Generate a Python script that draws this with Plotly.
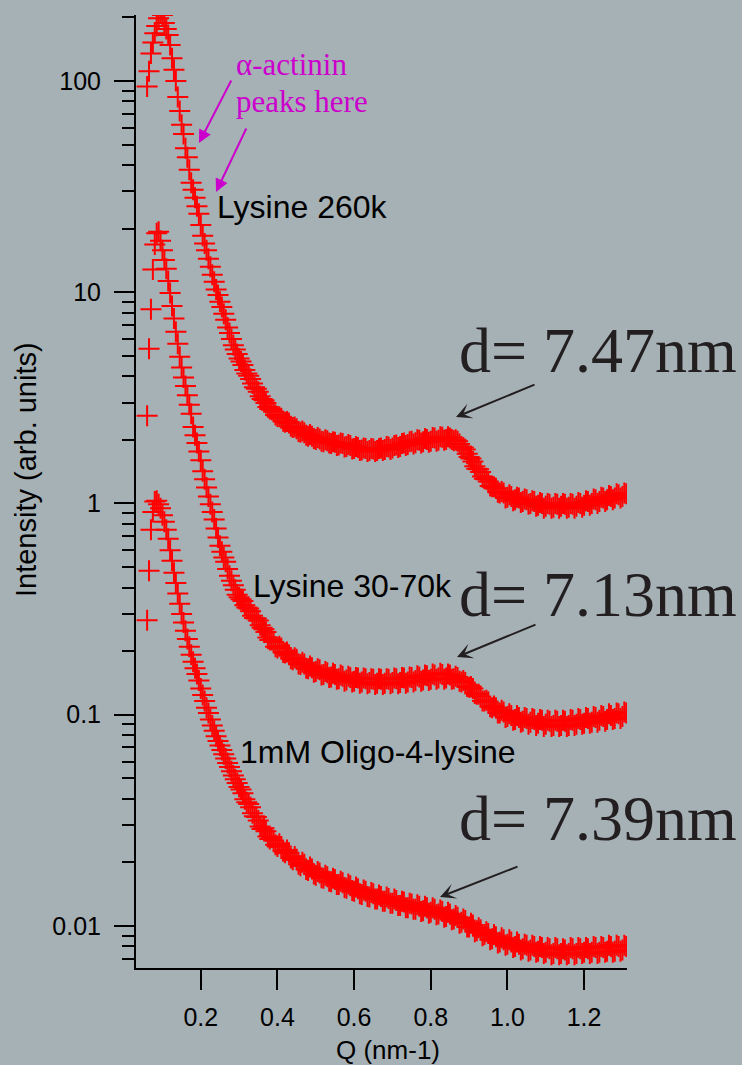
import plotly.graph_objects as go

# ---------------- data ----------------
# Q (nm-1): fine sampling near the peak, then the dense high-Q part
q_low = [0.060, 0.065, 0.070, 0.075, 0.080, 0.085, 0.090, 0.095, 0.100, 0.105,
         0.110, 0.115, 0.120, 0.125, 0.130, 0.135, 0.140, 0.145, 0.150, 0.155,
         0.160, 0.165, 0.170, 0.175, 0.180, 0.185, 0.190, 0.195, 0.200, 0.205,
         0.210, 0.215, 0.220, 0.225, 0.230, 0.235, 0.240, 0.245, 0.250, 0.255,
         0.260, 0.265, 0.270, 0.275, 0.280, 0.285, 0.290, 0.295, 0.300]
q_high = [0.305, 0.310, 0.315, 0.320, 0.325, 0.330, 0.335, 0.340, 0.345, 0.350,
          0.355, 0.360, 0.365, 0.370, 0.375, 0.380, 0.385, 0.390, 0.395, 0.400,
          0.405, 0.410, 0.415, 0.420, 0.425, 0.430, 0.435, 0.440, 0.445, 0.450,
          0.455, 0.460, 0.465, 0.470, 0.475, 0.480, 0.485, 0.490, 0.495, 0.500,
          0.505, 0.510, 0.515, 0.520, 0.525, 0.530, 0.535, 0.540, 0.545, 0.550,
          0.555, 0.560, 0.565, 0.570, 0.575, 0.580, 0.585, 0.590, 0.595, 0.600,
          0.605, 0.610, 0.615, 0.620, 0.625, 0.630, 0.635, 0.640, 0.645, 0.650,
          0.655, 0.660, 0.665, 0.670, 0.675, 0.680, 0.685, 0.690, 0.695, 0.700,
          0.705, 0.710, 0.715, 0.720, 0.725, 0.730, 0.735, 0.740, 0.745, 0.750,
          0.755, 0.760, 0.765, 0.770, 0.775, 0.780, 0.785, 0.790, 0.795, 0.800,
          0.805, 0.810, 0.815, 0.820, 0.825, 0.830, 0.835, 0.840, 0.845, 0.850,
          0.855, 0.860, 0.865, 0.870, 0.875, 0.880, 0.885, 0.890, 0.895, 0.900,
          0.905, 0.910, 0.915, 0.920, 0.925, 0.930, 0.935, 0.940, 0.945, 0.950,
          0.955, 0.960, 0.965, 0.970, 0.975, 0.980, 0.985, 0.990, 0.995, 1.000,
          1.005, 1.010, 1.015, 1.020, 1.025, 1.030, 1.035, 1.040, 1.045, 1.050,
          1.055, 1.060, 1.065, 1.070, 1.075, 1.080, 1.085, 1.090, 1.095, 1.100,
          1.105, 1.110, 1.115, 1.120, 1.125, 1.130, 1.135, 1.140, 1.145, 1.150,
          1.155, 1.160, 1.165, 1.170, 1.175, 1.180, 1.185, 1.190, 1.195, 1.200,
          1.205, 1.210, 1.215, 1.220, 1.225, 1.230, 1.235, 1.240, 1.245, 1.250,
          1.255, 1.260, 1.265, 1.270, 1.275, 1.280, 1.285, 1.290, 1.295, 1.300,
          1.305, 1.310]

lysine_260k_low = [94, 111, 135, 152, 168, 182, 198, 210, 205, 188,
                   176, 165, 148, 128, 113, 100, 84, 72, 62, 56,
                   48, 43.5, 38, 33, 30.5, 28, 25.5, 23.5, 20.8, 18.5,
                   17, 15.8, 14.4, 13.2, 12.1, 11.2, 10.3, 9.7, 9.0, 8.5,
                   7.9, 7.4, 6.8, 6.4, 6.0, 5.6, 5.35, 5.1, 4.85]
lysine_260k_high = [4.70, 4.52, 4.28, 4.12, 4.02, 3.88, 3.70, 3.55, 3.49, 3.38,
                    3.22, 3.12, 3.08, 2.99, 2.86, 2.80, 2.78, 2.72, 2.62, 2.58,
                    2.57, 2.53, 2.45, 2.42, 2.44, 2.40, 2.32, 2.29, 2.30, 2.26,
                    2.19, 2.17, 2.20, 2.16, 2.10, 2.08, 2.12, 2.08, 2.03, 2.01,
                    2.05, 2.02, 1.97, 1.96, 2.00, 1.98, 1.93, 1.92, 1.96, 1.95,
                    1.88, 1.89, 1.93, 1.92, 1.85, 1.86, 1.90, 1.88, 1.81, 1.82,
                    1.86, 1.84, 1.78, 1.79, 1.83, 1.82, 1.76, 1.78, 1.82, 1.81,
                    1.76, 1.78, 1.82, 1.83, 1.78, 1.80, 1.86, 1.85, 1.80, 1.83,
                    1.88, 1.89, 1.84, 1.86, 1.92, 1.93, 1.88, 1.90, 1.96, 1.97,
                    1.91, 1.94, 2.00, 1.99, 1.93, 1.96, 2.03, 2.01, 1.95, 1.97,
                    2.05, 2.04, 1.97, 1.99, 2.07, 2.06, 1.99, 2.01, 2.07, 2.04,
                    2.01, 1.98, 2.00, 1.97, 1.91, 1.86, 1.84, 1.80, 1.72, 1.66,
                    1.63, 1.58, 1.50, 1.46, 1.45, 1.41, 1.34, 1.31, 1.30, 1.27,
                    1.21, 1.20, 1.20, 1.18, 1.13, 1.12, 1.14, 1.12, 1.06, 1.07,
                    1.10, 1.08, 1.03, 1.04, 1.07, 1.06, 1.01, 1.02, 1.05, 1.04,
                    0.99, 1.00, 1.03, 1.02, 0.97, 0.98, 1.01, 1.00, 0.95, 0.97,
                    1.00, 0.99, 0.95, 0.96, 1.00, 0.99, 0.95, 0.97, 1.00, 0.99,
                    0.95, 0.96, 1.00, 0.99, 0.95, 0.97, 1.01, 1.00, 0.96, 0.98,
                    1.03, 1.02, 0.98, 1.00, 1.05, 1.04, 1.00, 1.02, 1.07, 1.06,
                    1.02, 1.04, 1.09, 1.08, 1.04, 1.06, 1.11, 1.10, 1.06, 1.08,
                    1.12, 1.11]

lysine_30_70k_low = [2.6, 5.4, 8.3, 12.8, 16.8, 19.0, 19.3, 17.5, 15.8, 14.2,
                     12.9, 11.3, 9.9, 8.6, 7.5, 6.5, 5.7, 4.95, 4.4, 3.95,
                     3.6, 3.25, 2.93, 2.66, 2.3, 2.1, 1.93, 1.76, 1.6, 1.42,
                     1.3, 1.19, 1.08, 0.99, 0.91, 0.84, 0.76, 0.69, 0.63, 0.59,
                     0.555, 0.53, 0.49, 0.455, 0.43, 0.41, 0.39, 0.37, 0.36]
lysine_30_70k_high = [0.352, 0.345, 0.330, 0.322, 0.318, 0.309, 0.294, 0.287, 0.285, 0.279,
                      0.265, 0.258, 0.254, 0.246, 0.232, 0.226, 0.226, 0.221, 0.210, 0.207,
                      0.211, 0.207, 0.197, 0.196, 0.198, 0.192, 0.184, 0.182, 0.186, 0.183,
                      0.174, 0.173, 0.177, 0.174, 0.166, 0.165, 0.170, 0.167, 0.159, 0.160,
                      0.165, 0.163, 0.154, 0.155, 0.160, 0.158, 0.150, 0.151, 0.157, 0.155,
                      0.147, 0.148, 0.154, 0.152, 0.144, 0.146, 0.152, 0.150, 0.143, 0.144,
                      0.150, 0.149, 0.141, 0.143, 0.149, 0.148, 0.140, 0.142, 0.148, 0.147,
                      0.139, 0.141, 0.148, 0.147, 0.139, 0.141, 0.148, 0.147, 0.140, 0.142,
                      0.149, 0.148, 0.140, 0.142, 0.150, 0.149, 0.141, 0.143, 0.151, 0.150,
                      0.143, 0.145, 0.153, 0.151, 0.144, 0.146, 0.154, 0.153, 0.145, 0.147,
                      0.156, 0.154, 0.147, 0.149, 0.157, 0.155, 0.147, 0.149, 0.156, 0.154,
                      0.147, 0.148, 0.152, 0.150, 0.144, 0.143, 0.145, 0.142, 0.136, 0.135,
                      0.136, 0.133, 0.126, 0.125, 0.125, 0.122, 0.116, 0.116, 0.117, 0.115,
                      0.109, 0.108, 0.110, 0.108, 0.102, 0.102, 0.105, 0.103, 0.097, 0.098,
                      0.101, 0.099, 0.094, 0.095, 0.099, 0.097, 0.092, 0.093, 0.097, 0.096,
                      0.090, 0.092, 0.096, 0.095, 0.089, 0.091, 0.095, 0.094, 0.088, 0.090,
                      0.094, 0.093, 0.088, 0.089, 0.094, 0.093, 0.088, 0.089, 0.094, 0.093,
                      0.088, 0.089, 0.095, 0.094, 0.089, 0.090, 0.096, 0.095, 0.090, 0.091,
                      0.097, 0.096, 0.091, 0.092, 0.098, 0.097, 0.092, 0.094, 0.099, 0.098,
                      0.093, 0.095, 0.101, 0.099, 0.095, 0.096, 0.102, 0.101, 0.096, 0.098,
                      0.103, 0.102]

oligo_4_lysine_low = [0.28, 0.48, 0.75, 0.91, 1.02, 1.03, 0.99, 0.95, 0.88, 0.82,
                      0.75, 0.68, 0.6, 0.535, 0.47, 0.42, 0.375, 0.335, 0.3, 0.273,
                      0.25, 0.228, 0.21, 0.192, 0.178, 0.166, 0.156, 0.145, 0.133, 0.124,
                      0.116, 0.108, 0.102, 0.095, 0.089, 0.084, 0.079, 0.075, 0.0715, 0.068,
                      0.065, 0.062, 0.059, 0.0565, 0.054, 0.0515, 0.0495, 0.0475, 0.0455]
oligo_4_lysine_high = [0.0442, 0.0425, 0.0398, 0.0385, 0.0378, 0.0365, 0.0342, 0.0331, 0.0328, 0.0316,
                       0.0296, 0.0288, 0.0290, 0.0281, 0.0265, 0.0258, 0.0262, 0.0254, 0.0242, 0.0238,
                       0.0245, 0.0238, 0.0226, 0.0222, 0.0229, 0.0222, 0.0210, 0.0206, 0.0213, 0.0207,
                       0.0196, 0.0193, 0.0200, 0.0196, 0.0185, 0.0183, 0.0190, 0.0186, 0.0176, 0.0174,
                       0.0181, 0.0178, 0.0169, 0.0168, 0.0174, 0.0171, 0.0163, 0.0162, 0.0168, 0.0166,
                       0.0157, 0.0157, 0.0163, 0.0160, 0.0152, 0.0151, 0.0158, 0.0155, 0.0147, 0.0146,
                       0.0153, 0.0150, 0.0142, 0.0141, 0.0148, 0.0146, 0.0138, 0.0137, 0.0144, 0.0142,
                       0.0134, 0.0134, 0.0140, 0.0138, 0.0131, 0.0131, 0.0137, 0.0135, 0.0128, 0.0128,
                       0.0134, 0.0132, 0.0125, 0.0125, 0.0131, 0.0130, 0.0122, 0.0122, 0.0128, 0.0127,
                       0.0120, 0.0120, 0.0126, 0.0124, 0.0117, 0.0118, 0.0124, 0.0122, 0.0115, 0.0116,
                       0.0122, 0.0120, 0.0113, 0.0114, 0.0119, 0.0117, 0.0110, 0.0111, 0.0116, 0.0114,
                       0.0107, 0.0108, 0.0112, 0.0110, 0.0103, 0.0104, 0.0108, 0.0106, 0.0099, 0.0099,
                       0.0103, 0.0101, 0.0094, 0.0095, 0.0098, 0.0096, 0.0090, 0.0091, 0.0094, 0.0092,
                       0.0086, 0.0087, 0.0091, 0.0089, 0.0083, 0.0084, 0.0088, 0.0086, 0.0081, 0.0082,
                       0.0086, 0.0084, 0.0079, 0.0080, 0.0084, 0.0082, 0.0077, 0.0078, 0.0082, 0.0081,
                       0.0076, 0.0077, 0.0081, 0.0080, 0.0075, 0.0076, 0.0080, 0.0079, 0.0074, 0.0075,
                       0.0079, 0.0078, 0.0073, 0.0074, 0.0079, 0.0078, 0.0073, 0.0074, 0.0078, 0.0077,
                       0.0073, 0.0074, 0.0079, 0.0078, 0.0073, 0.0074, 0.0079, 0.0078, 0.0074, 0.0075,
                       0.0079, 0.0078, 0.0074, 0.0075, 0.0080, 0.0079, 0.0074, 0.0075, 0.0080, 0.0079,
                       0.0075, 0.0076, 0.0081, 0.0080, 0.0075, 0.0076, 0.0081, 0.0080, 0.0076, 0.0077,
                       0.0081, 0.0080]

x_tick_vals = [0.2, 0.4, 0.6, 0.8, 1.0, 1.2]
x_tick_text = ["0.2", "0.4", "0.6", "0.8", "1.0", "1.2"]
y_tick_vals = [0.01, 0.1, 1, 10, 100]
y_tick_text = ["0.01", "0.1", "1", "10", "100"]
y_minor_vals = [0.006, 0.007, 0.008, 0.009,
                0.02, 0.03, 0.04, 0.05, 0.06, 0.07, 0.08, 0.09,
                0.2, 0.3, 0.4, 0.5, 0.6, 0.7, 0.8, 0.9,
                2, 3, 4, 5, 6, 7, 8, 9,
                20, 30, 40, 50, 60, 70, 80, 90, 200]

q = q_low + q_high
series = [lysine_260k_low + lysine_260k_high,
          lysine_30_70k_low + lysine_30_70k_high,
          oligo_4_lysine_low + oligo_4_lysine_high]

# ---------------- styling ----------------
BG = "#a6b1b5"
RED = "#ff0000"
SANS = "Liberation Sans, Arial, sans-serif"
SERIF = "Liberation Serif, Times New Roman, serif"
W, H = 742, 1065
ML, MR, MT, MB = 136, 115, 15, 97

fig = go.Figure()
for ys in series:
    assert len(ys) == len(q)
    fig.add_trace(go.Scatter(
        x=q, y=ys, mode="markers",
        marker=dict(symbol="cross-thin", size=15, color=RED,
                    line=dict(width=2, color=RED)),
        hoverinfo="skip"))

fig.update_layout(
    width=W, height=H, autosize=False,
    margin=dict(l=ML, r=MR, t=MT, b=MB, pad=0),
    paper_bgcolor=BG, plot_bgcolor=BG, showlegend=False,
    font=dict(family=SANS, color="black"),
)
fig.update_xaxes(
    range=[0.031, 1.312], showline=True, linecolor="black", linewidth=2,
    ticks="outside", ticklen=20, tickwidth=2, tickcolor="black",
    tickmode="array", tickvals=x_tick_vals, ticktext=x_tick_text,
    tickfont=dict(size=25, family=SANS, color="black"),
    showgrid=False, zeroline=False, ticklabelstandoff=6)
fig.update_yaxes(
    type="log", range=[-2.199, 2.312], showline=True, linecolor="black",
    linewidth=2, ticks="outside", ticklen=20, tickwidth=2, tickcolor="black",
    tickmode="array", tickvals=y_tick_vals, ticktext=y_tick_text,
    tickfont=dict(size=25, family=SANS, color="black"),
    minor=dict(ticks="outside", ticklen=12, tickwidth=2, tickcolor="black",
               tickmode="array", tickvals=y_minor_vals, showgrid=False),
    showgrid=False, zeroline=False, ticklabelstandoff=8)


def px(xp):
    return (xp - ML) / (W - ML - MR)


def py(yp):
    return (H - MB - yp) / (H - MT - MB)


def text(t, x, y, size, color="black", family=SANS, xanchor="left", angle=0):
    fig.add_annotation(text=t, xref="paper", yref="paper", x=px(x), y=py(y),
                       xanchor=xanchor, yanchor="middle", showarrow=False,
                       textangle=angle,
                       font=dict(size=size, color=color, family=family))


def arrow(tip, tail, color, head, width=2, size=1.3):
    fig.add_annotation(text="", xref="paper", yref="paper",
                       x=px(tip[0]), y=py(tip[1]),
                       ax=tail[0] - tip[0], ay=tail[1] - tip[1],
                       axref="pixel", ayref="pixel", showarrow=True,
                       arrowhead=head, arrowwidth=width, arrowsize=size,
                       arrowcolor=color, standoff=0)


MAG = "#cc00cc"
DARK = "#231f20"
# axis titles
text("Intensity (arb. units)", 26, 470, 29, xanchor="center", angle=-90)
text("Q (nm-1)", 388, 1050, 26, xanchor="center")
# sample labels
text("Lysine 260k", 215, 207, 32)
text("Lysine 30-70k", 251, 586, 32)
text("1mM Oligo-4-lysine", 238, 752, 32)
# alpha-actinin note
text("α-actinin", 234, 64, 31, color=MAG, family=SERIF)
text("peaks here", 234, 101, 31, color=MAG, family=SERIF)
arrow((199, 143), (232, 79), MAG, 2, 2, 1.3)
arrow((216, 192), (247, 127), MAG, 2, 2, 1.3)
# d-spacing notes
text("d= 7.47nm", 457, 351, 64, color=DARK, family=SERIF)
text("d= 7.13nm", 457, 594, 64, color=DARK, family=SERIF)
text("d= 7.39nm", 457, 818, 64, color=DARK, family=SERIF)
arrow((456, 417), (536, 384), DARK, 3, 2, 1.3)
arrow((457, 657), (537, 624), DARK, 3, 2, 1.3)
arrow((440, 897), (519, 866), DARK, 3, 2, 1.3)

fig.write_html("out.html", config={"displayModeBar": False},
               post_script="document.body.style.margin='0';")
